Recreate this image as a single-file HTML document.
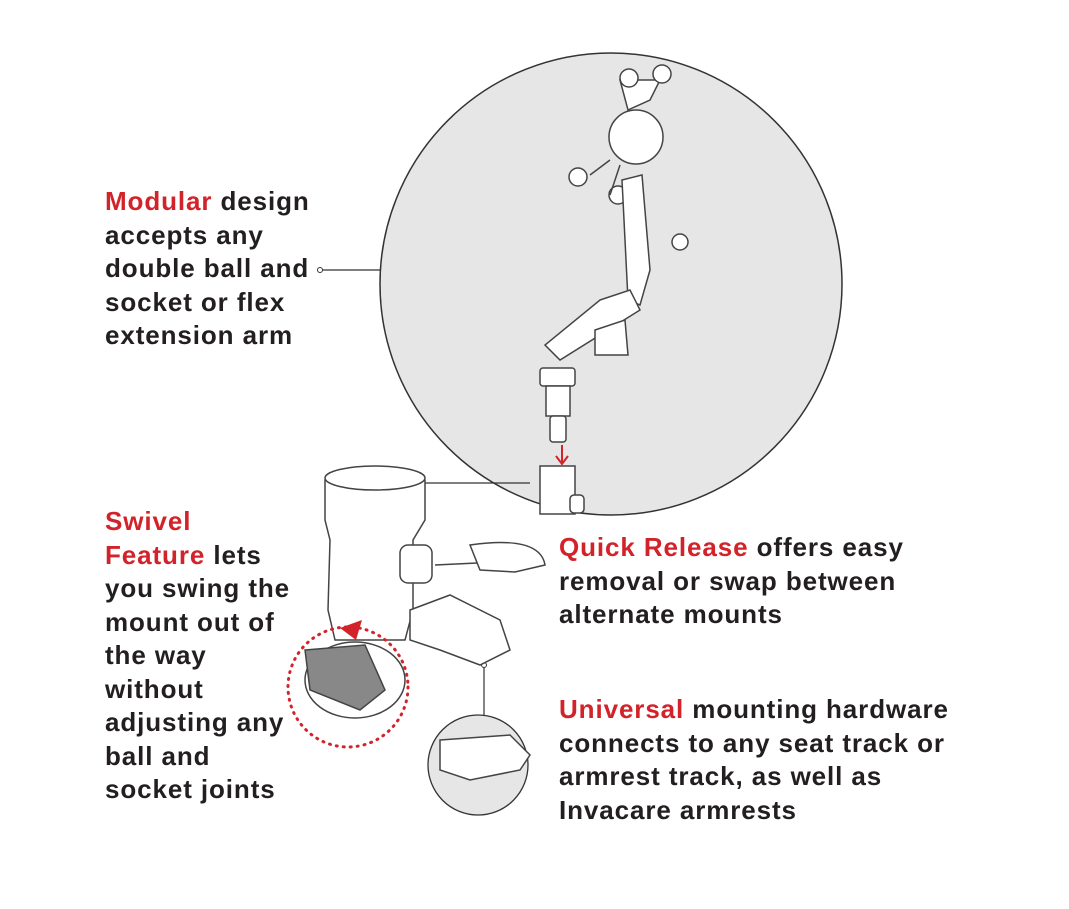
<!DOCTYPE html>
<html><head><meta charset="utf-8"><style>
html,body{margin:0;padding:0;background:#fff;}
body{width:1069px;height:909px;position:relative;overflow:hidden;font-family:"Liberation Sans",Arial,sans-serif;}
.t{position:absolute;font-weight:bold;font-size:26px;line-height:33.5px;color:#231f20;letter-spacing:0.9px;white-space:nowrap;}
.r{color:#d2232a;}
svg{position:absolute;left:0;top:0;}
</style></head><body>
<svg width="1069" height="909" viewBox="0 0 1069 909">
<circle cx="611" cy="284" r="231" fill="#e6e6e6" stroke="#333" stroke-width="1.5"/>
<line x1="322" y1="270" x2="380" y2="270" stroke="#333" stroke-width="1.2"/>
<circle cx="320" cy="270" r="2.5" fill="#fff" stroke="#333"/>
<line x1="425" y1="483" x2="530" y2="483" stroke="#333" stroke-width="1.2"/>
<circle cx="478" cy="765" r="50" fill="#e6e6e6" stroke="#333" stroke-width="1.3"/>
<line x1="484" y1="667" x2="484" y2="715" stroke="#333" stroke-width="1.2"/>
<circle cx="484" cy="665" r="2.5" fill="#fff" stroke="#333"/>
<g fill="#fff" stroke="#444" stroke-width="1.5">
<path d="M620 80 L628 110 L650 100 L660 80 Z"/>
<circle cx="629" cy="78" r="9"/><circle cx="662" cy="74" r="9"/>
<circle cx="578" cy="177" r="9"/><circle cx="618" cy="195" r="9"/>
<circle cx="636" cy="137" r="27"/>
<path d="M610 160 L590 175 M620 165 L610 195"/>
<path d="M622 180 L642 175 L650 270 L640 305 L628 300 Z"/>
<circle cx="680" cy="242" r="8"/>
<path d="M600 300 L630 290 L640 310 L560 360 L545 345 Z"/>
<path d="M595 330 L625 320 L628 355 L595 355 Z"/>
<rect x="540" y="368" width="35" height="18" rx="3"/>
<rect x="546" y="386" width="24" height="30"/>
<rect x="550" y="416" width="16" height="26" rx="3"/>
<rect x="540" y="466" width="35" height="48"/>
<rect x="570" y="495" width="14" height="18" rx="4"/>
<path d="M325 480 Q370 465 425 480 L425 520 L413 540 L413 610 L405 640 L335 640 L328 610 L330 540 L325 520 Z"/>
<ellipse cx="375" cy="478" rx="50" ry="12"/>
<rect x="400" y="545" width="32" height="38" rx="8"/>
<path d="M435 565 L540 560" />
<path d="M470 545 Q540 535 545 565 L515 572 L480 570 Z"/>
<path d="M410 610 L450 595 L500 620 L510 650 L480 665 L440 650 L410 640 Z"/>
<ellipse cx="355" cy="680" rx="50" ry="38"/>
<path d="M305 650 L365 645 L385 690 L360 710 L310 690 Z" fill="#888"/>
<path d="M440 740 L510 735 L530 755 L520 770 L470 780 L440 770 Z"/>
</g>
<path d="M562 445 L562 462 M556 456 L562 464 L568 456" stroke="#d2232a" stroke-width="2" fill="none"/>
<path d="M340 628 L362 620 L356 640 Z" fill="#d2232a"/>
<circle cx="348" cy="687" r="60" fill="none" stroke="#d2232a" stroke-width="3" stroke-dasharray="1 6" stroke-linecap="round"/>
</svg>
<div class="t" style="left:105px;top:185px;"><span class="r">Modular</span> design<br>accepts any<br>double ball and<br>socket or flex<br>extension arm</div>
<div class="t" style="left:105px;top:505px;"><span class="r">Swivel<br>Feature</span> lets<br>you swing the<br>mount out of<br>the way<br>without<br>adjusting any<br>ball and<br>socket joints</div>
<div class="t" style="left:559px;top:531px;"><span class="r">Quick Release</span> offers easy<br>removal or swap between<br>alternate mounts</div>
<div class="t" style="left:559px;top:693px;"><span class="r">Universal</span> mounting hardware<br>connects to any seat track or<br>armrest track, as well as<br>Invacare armrests</div>
</body></html>
